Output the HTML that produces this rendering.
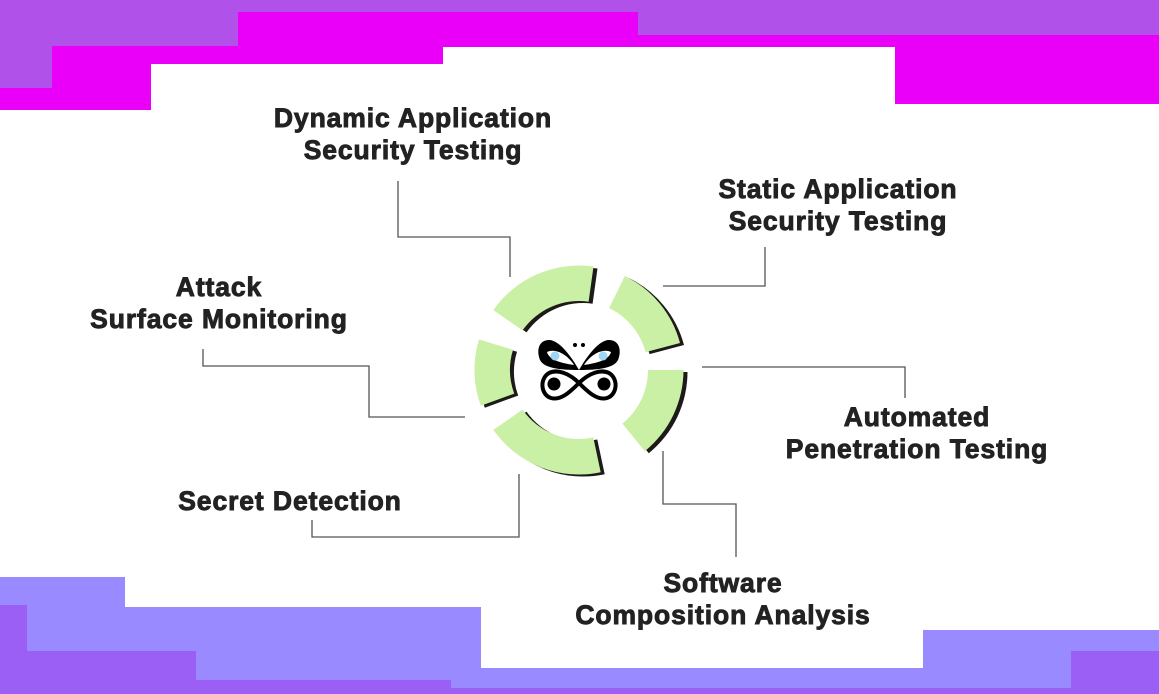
<!DOCTYPE html>
<html><head><meta charset="utf-8"><style>
html,body{margin:0;padding:0;background:#fff;}
svg{display:block}
text{font-family:"Liberation Sans",Arial,sans-serif;font-weight:bold;font-size:26.5px;fill:#222;stroke:#222;stroke-width:0.9px;letter-spacing:0.9px}
</style></head><body>
<svg width="1159" height="694" viewBox="0 0 1159 694" xmlns="http://www.w3.org/2000/svg">
<g fill="#ea00f8">
<rect x="238" y="12" width="921" height="35"/>
<rect x="0" y="46" width="443" height="18"/>
<rect x="0" y="64" width="151" height="46"/>
<rect x="895" y="35" width="264" height="69"/>
</g>
<g fill="#b052ea">
<rect x="0" y="0" width="1159" height="12"/>
<rect x="638" y="0" width="521" height="35"/>
<rect x="0" y="0" width="238" height="46"/>
<rect x="0" y="0" width="52" height="88"/>
</g>
<g fill="#9a8aff">
<rect x="0" y="577" width="125" height="117"/>
<rect x="125" y="607" width="356" height="87"/>
<rect x="481" y="668" width="442" height="26"/>
<rect x="923" y="630" width="236" height="64"/>
</g>
<g fill="#9b5ff5">
<rect x="0" y="605" width="27" height="89"/>
<rect x="0" y="651" width="196" height="43"/>
<rect x="196" y="680" width="255" height="14"/>
<rect x="451" y="688" width="620" height="6"/>
<rect x="1071" y="651" width="88" height="43"/>
</g>
<g fill="none" stroke="#555" stroke-width="1.3">
<polyline points="398,181 398,237 510,237 510,277"/>
<polyline points="663,286 765,286 765,247"/>
<polyline points="203,349 203,366 369,366 369,417 465,417"/>
<polyline points="702,367 905,367 905,398"/>
<polyline points="519,474 519,537 312,537 312,520"/>
<polyline points="663,451 663,504 736,504 736,557"/>
</g>
<g transform="translate(579,370)">
<g fill="#1e1a1a" transform="translate(4,2)">
<path d="M-85.6,-59.9 A104.5,104.5 0 0 1 14.5,-103.5 L9.6,-68.3 A69,69 0 0 0 -56.5,-39.6 Z"/>
<path d="M45.8,-94 A104.5,104.5 0 0 1 101,-27 L66.6,-17.9 A69,69 0 0 0 30.2,-62 Z"/>
<path d="M104.5,0 A104.5,104.5 0 0 1 65.8,81.2 L43.4,53.6 A69,69 0 0 0 69,0 Z"/>
<path d="M21.7,102.2 A104.5,104.5 0 0 1 -85.6,59.9 L-56.5,39.6 A69,69 0 0 0 14.3,67.5 Z"/>
<path d="M-98.2,35.7 A104.5,104.5 0 0 1 -100,-30.6 L-66,-20.2 A69,69 0 0 0 -64.8,23.6 Z"/>
</g>
<g fill="#c9f0a4">
<path d="M-85.6,-59.9 A104.5,104.5 0 0 1 14.5,-103.5 L9.6,-68.3 A69,69 0 0 0 -56.5,-39.6 Z"/>
<path d="M45.8,-94 A104.5,104.5 0 0 1 101,-27 L66.6,-17.9 A69,69 0 0 0 30.2,-62 Z"/>
<path d="M104.5,0 A104.5,104.5 0 0 1 65.8,81.2 L43.4,53.6 A69,69 0 0 0 69,0 Z"/>
<path d="M21.7,102.2 A104.5,104.5 0 0 1 -85.6,59.9 L-56.5,39.6 A69,69 0 0 0 14.3,67.5 Z"/>
<path d="M-98.2,35.7 A104.5,104.5 0 0 1 -100,-30.6 L-66,-20.2 A69,69 0 0 0 -64.8,23.6 Z"/>
</g>
<g>
<path d="M0,0 C-8,-14 -20,-30 -30,-30 C-40,-30 -43,-20 -39,-10 C-35,-2 -20,0 0,0 Z" fill="#000"/>
<path d="M0,0 C8,-14 20,-30 30,-30 C40,-30 43,-20 39,-10 C35,-2 20,0 0,0 Z" fill="#000"/>
<path d="M-5,-5 C-12,-16 -24,-22 -32,-18 C-30,-10 -18,-7 -5,-5 Z" fill="#fff"/>
<path d="M5,-5 C12,-16 24,-22 32,-18 C30,-10 18,-7 5,-5 Z" fill="#fff"/>
<circle cx="-24" cy="-14" r="4.5" fill="#9fd6f5"/>
<circle cx="24" cy="-14" r="4.5" fill="#9fd6f5"/>
<circle cx="-4" cy="-25" r="2" fill="#000"/>
<circle cx="4" cy="-25" r="2" fill="#000"/>
<path d="M0,13 C-10,3 -22,-1 -30,3 C-40,9 -38,25 -28,28 C-18,31 -8,21 0,13 C8,21 18,31 28,28 C38,25 40,9 30,3 C22,-1 10,3 0,13 Z" fill="#fff" stroke="#000" stroke-width="4"/>
<circle cx="-25" cy="14" r="6.5" fill="#000"/>
<circle cx="25" cy="14" r="6.5" fill="#000"/>
</g>
</g>
<g text-anchor="middle">
<text x="413" y="127">Dynamic Application</text>
<text x="413" y="159">Security Testing</text>
<text x="838" y="198">Static Application</text>
<text x="838" y="230">Security Testing</text>
<text x="219" y="296">Attack</text>
<text x="219" y="328">Surface Monitoring</text>
<text x="917" y="426">Automated</text>
<text x="917" y="458">Penetration Testing</text>
<text x="290" y="510">Secret Detection</text>
<text x="723" y="592">Software</text>
<text x="723" y="624">Composition Analysis</text>
</g>
</svg>
</body></html>
